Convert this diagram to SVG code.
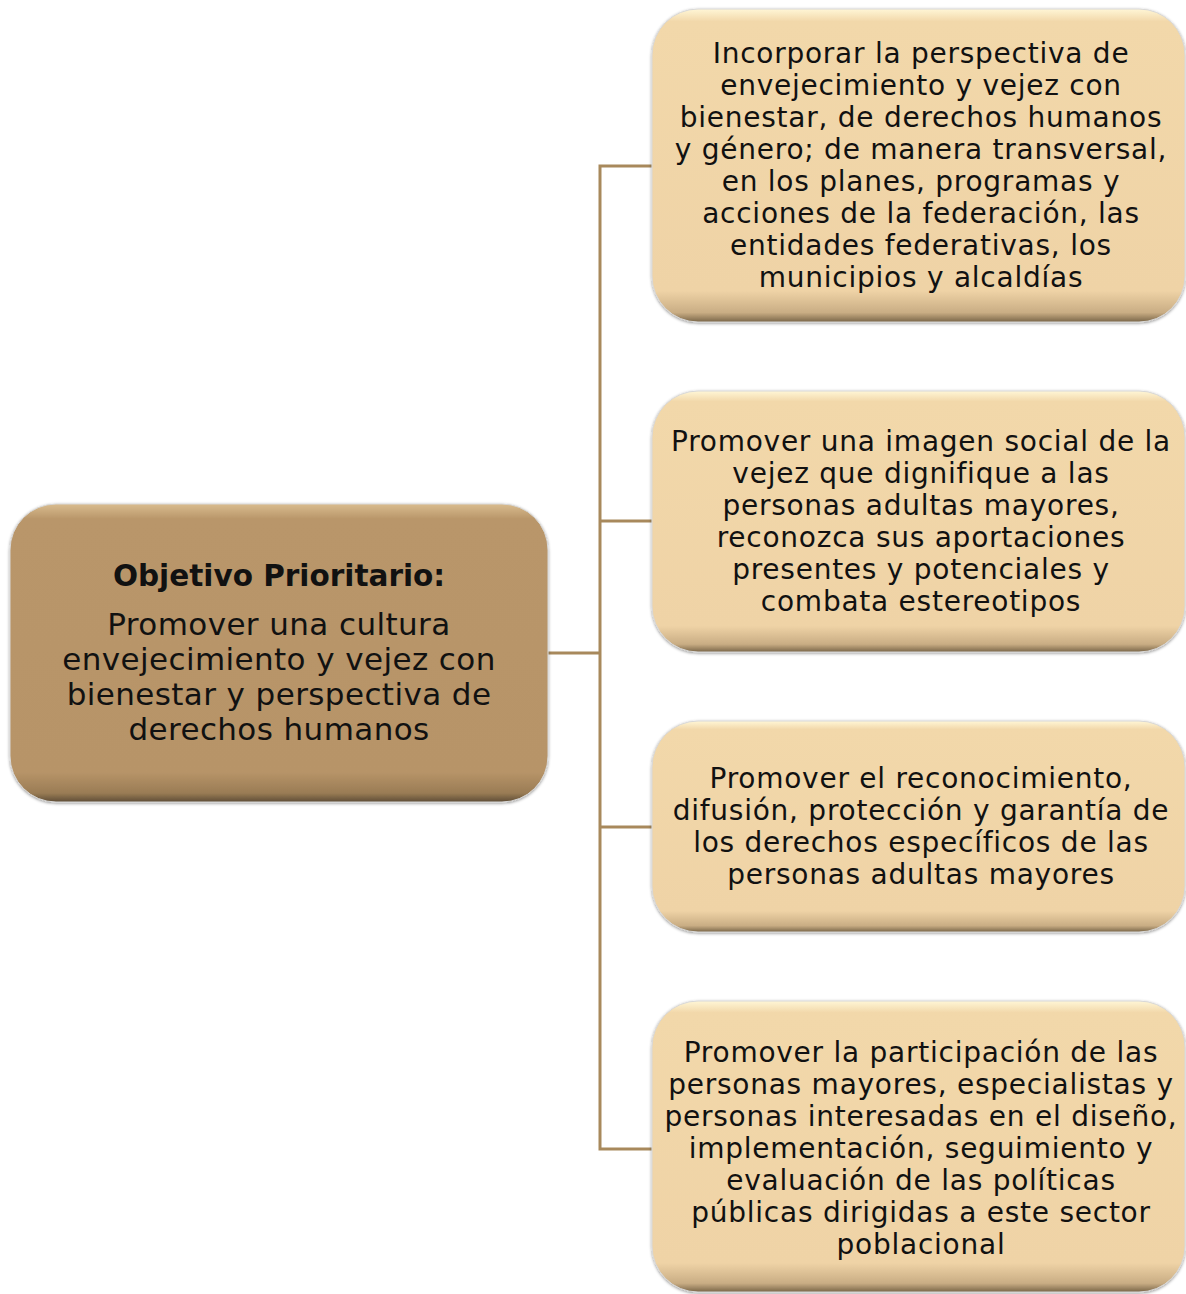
<svg xmlns="http://www.w3.org/2000/svg" width="1186" height="1294" viewBox="0 0 1186 1294">
<style>
.t{font-family:"DejaVu Sans","Liberation Sans",sans-serif;font-size:28px;letter-spacing:0.75px;fill:#111;text-anchor:middle}
.tl{font-family:"DejaVu Sans","Liberation Sans",sans-serif;font-size:31px;letter-spacing:0.4px;fill:#111;text-anchor:middle}
.b{font-weight:bold;font-size:29.5px;letter-spacing:0}
.conn{stroke:#a8895c;stroke-width:3;fill:none}
</style>
<defs>
<linearGradient id="gLight" x1="0" y1="0" x2="0" y2="1">
<stop offset="0" stop-color="#fff6d6"/>
<stop offset="0.04" stop-color="#f2d8aa"/>
<stop offset="0.9" stop-color="#efd3a6"/>
<stop offset="0.97" stop-color="#c9ad84"/>
<stop offset="1" stop-color="#7a6648"/>
</linearGradient>
<linearGradient id="gDark" x1="0" y1="0" x2="0" y2="1">
<stop offset="0" stop-color="#d9bc8e"/>
<stop offset="0.05" stop-color="#b9966a"/>
<stop offset="0.9" stop-color="#b79468"/>
<stop offset="0.97" stop-color="#9a7c55"/>
<stop offset="1" stop-color="#5e4d36"/>
</linearGradient>
<filter id="sh" x="-5%" y="-5%" width="110%" height="110%">
<feDropShadow dx="0" dy="1" stdDeviation="1.5" flood-color="#000" flood-opacity="0.4"/>
</filter>
</defs>
<g id="connectors">
<polyline class="conn" points="548,653 600,653"/>
<polyline class="conn" points="652,166 600,166 600,1149 652,1149"/>
<line class="conn" x1="600" y1="521" x2="652" y2="521"/>
<line class="conn" x1="600" y1="827" x2="652" y2="827"/>
</g>
<g id="objetivo">
<rect x="10" y="504" width="538" height="298" rx="46" fill="url(#gDark)" stroke="#d8d8d8" stroke-width="1" filter="url(#sh)"/>
<text class="tl b" x="279" y="586">Objetivo Prioritario:</text>
<text class="tl" x="279" y="635">Promover una cultura</text>
<text class="tl" x="279" y="670">envejecimiento y vejez con</text>
<text class="tl" x="279" y="705">bienestar y perspectiva de</text>
<text class="tl" x="279" y="740">derechos humanos</text>
</g>
<g id="n1">
<rect x="652" y="9" width="533" height="313" rx="46" fill="url(#gLight)" stroke="#d8d8d8" stroke-width="1" filter="url(#sh)"/>
<text class="t" x="921" y="63">Incorporar la perspectiva de</text>
<text class="t" x="921" y="95">envejecimiento y vejez con</text>
<text class="t" x="921" y="127">bienestar, de derechos humanos</text>
<text class="t" x="921" y="159">y género; de manera transversal,</text>
<text class="t" x="921" y="191">en los planes, programas y</text>
<text class="t" x="921" y="223">acciones de la federación, las</text>
<text class="t" x="921" y="255">entidades federativas, los</text>
<text class="t" x="921" y="287">municipios y alcaldías</text>
</g>
<g id="n2">
<rect x="652" y="391" width="533" height="261" rx="46" fill="url(#gLight)" stroke="#d8d8d8" stroke-width="1" filter="url(#sh)"/>
<text class="t" x="921" y="451">Promover una imagen social de la</text>
<text class="t" x="921" y="483">vejez que dignifique a las</text>
<text class="t" x="921" y="515">personas adultas mayores,</text>
<text class="t" x="921" y="547">reconozca sus aportaciones</text>
<text class="t" x="921" y="579">presentes y potenciales y</text>
<text class="t" x="921" y="611">combata estereotipos</text>
</g>
<g id="n3">
<rect x="652" y="721" width="533" height="211" rx="46" fill="url(#gLight)" stroke="#d8d8d8" stroke-width="1" filter="url(#sh)"/>
<text class="t" x="921" y="788">Promover el reconocimiento,</text>
<text class="t" x="921" y="820">difusión, protección y garantía de</text>
<text class="t" x="921" y="852">los derechos específicos de las</text>
<text class="t" x="921" y="884">personas adultas mayores</text>
</g>
<g id="n4">
<rect x="652" y="1001" width="533" height="291" rx="46" fill="url(#gLight)" stroke="#d8d8d8" stroke-width="1" filter="url(#sh)"/>
<text class="t" x="921" y="1062">Promover la participación de las</text>
<text class="t" x="921" y="1094">personas mayores, especialistas y</text>
<text class="t" x="921" y="1126">personas interesadas en el diseño,</text>
<text class="t" x="921" y="1158">implementación, seguimiento y</text>
<text class="t" x="921" y="1190">evaluación de las políticas</text>
<text class="t" x="921" y="1222">públicas dirigidas a este sector</text>
<text class="t" x="921" y="1254">poblacional</text>
</g>
</svg>
